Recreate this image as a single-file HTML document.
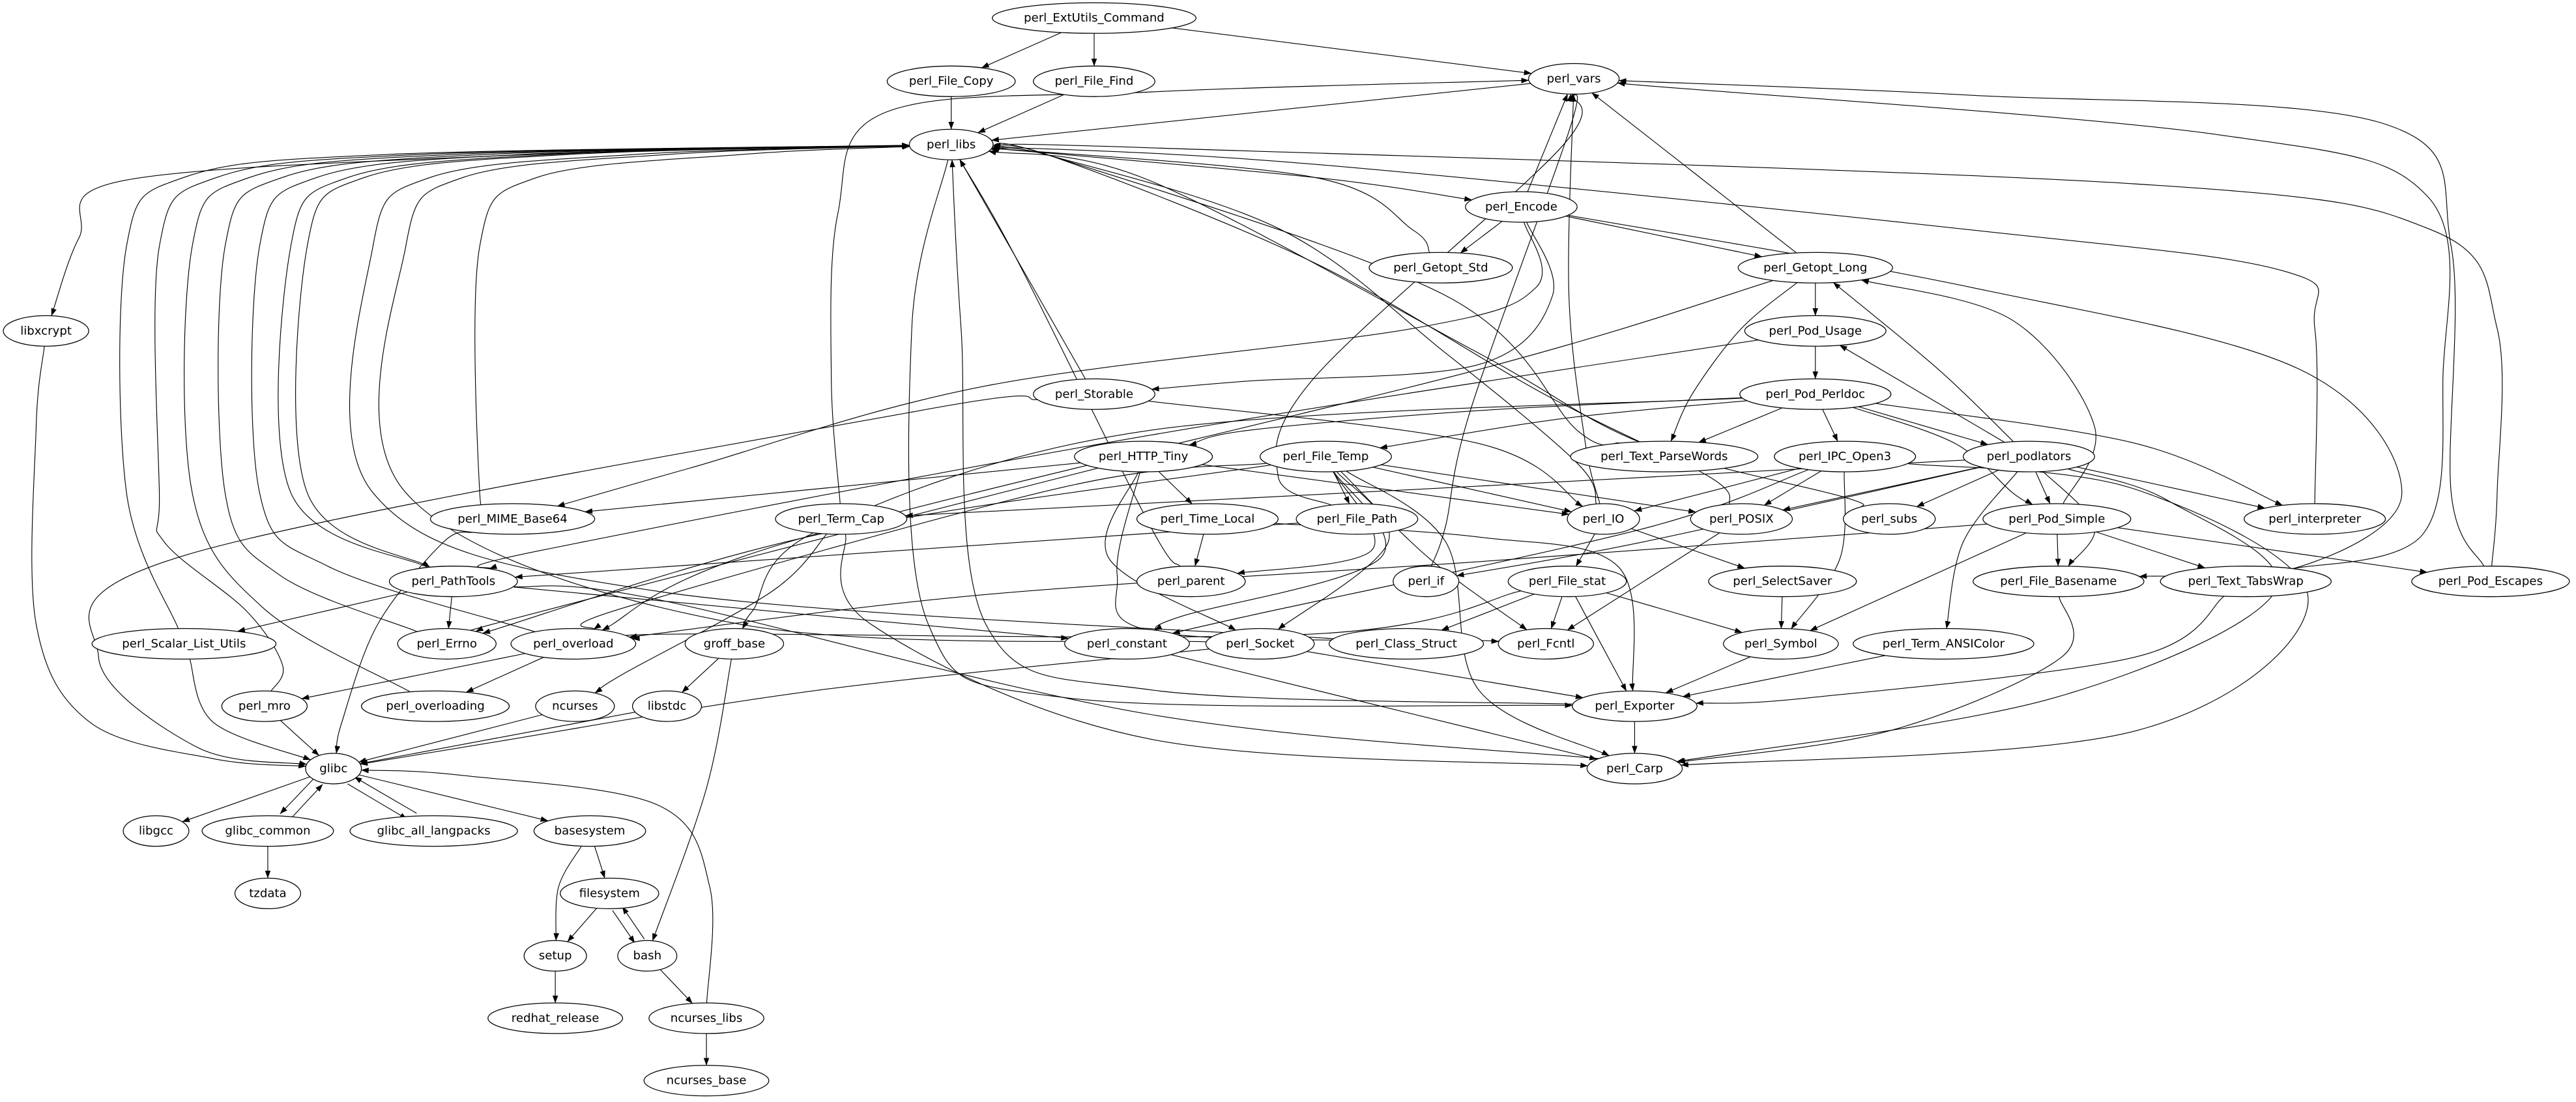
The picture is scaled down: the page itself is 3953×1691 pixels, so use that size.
<!DOCTYPE html>
<html><head><meta charset="utf-8"><style>
html,body{margin:0;padding:0;background:#fff;}
svg{display:block;}
text{font-family:"DejaVu Sans","Liberation Sans",sans-serif;font-size:7.2px;text-anchor:middle;dominant-baseline:central;fill:#000;}
ellipse{fill:#fff;stroke:#000;stroke-width:0.5;}
#edges path{fill:none;stroke:#000;stroke-width:0.45;}
</style></head><body>
<svg id="s" width="3953" height="1691" viewBox="0 0 1568 671" preserveAspectRatio="none" xmlns="http://www.w3.org/2000/svg">
<defs><marker id="a" markerUnits="userSpaceOnUse" markerWidth="4.6" markerHeight="3.4" viewBox="0 0 4.6 3.4" refX="4.5" refY="1.7" orient="auto"><path d="M0,0 L4.6,1.7 L0,3.4 z" fill="#000"/></marker></defs>
<rect width="1568" height="671" fill="#fff"/>
<g id="edges"></g>
<g id="nodes">
<ellipse cx="666" cy="11" rx="62" ry="9.3"/><text x="666" y="11">perl_ExtUtils_Command</text>
<ellipse cx="579" cy="49.5" rx="39" ry="9.3"/><text x="579" y="49.5">perl_File_Copy</text>
<ellipse cx="666" cy="49.5" rx="37" ry="9.3"/><text x="666" y="49.5">perl_File_Find</text>
<ellipse cx="958" cy="48" rx="27.6" ry="9.3"/><text x="958" y="48">perl_vars</text>
<ellipse cx="579" cy="88" rx="25.5" ry="9.3"/><text x="579" y="88">perl_libs</text>
<ellipse cx="926" cy="126" rx="34" ry="9.3"/><text x="926" y="126">perl_Encode</text>
<ellipse cx="877" cy="163" rx="43.6" ry="9.3"/><text x="877" y="163">perl_Getopt_Std</text>
<ellipse cx="1105" cy="163" rx="47" ry="9.3"/><text x="1105" y="163">perl_Getopt_Long</text>
<ellipse cx="1105" cy="201.5" rx="43" ry="9.3"/><text x="1105" y="201.5">perl_Pod_Usage</text>
<ellipse cx="28" cy="201.5" rx="26" ry="9.3"/><text x="28" y="201.5">libxcrypt</text>
<ellipse cx="666" cy="240" rx="37" ry="9.3"/><text x="666" y="240">perl_Storable</text>
<ellipse cx="1105" cy="240" rx="46" ry="9.3"/><text x="1105" y="240">perl_Pod_Perldoc</text>
<ellipse cx="696" cy="278" rx="42" ry="9.3"/><text x="696" y="278">perl_HTTP_Tiny</text>
<ellipse cx="807" cy="278" rx="40" ry="9.3"/><text x="807" y="278">perl_File_Temp</text>
<ellipse cx="1013" cy="278" rx="57" ry="9.3"/><text x="1013" y="278">perl_Text_ParseWords</text>
<ellipse cx="1123" cy="278" rx="43" ry="9.3"/><text x="1123" y="278">perl_IPC_Open3</text>
<ellipse cx="1235" cy="278" rx="40" ry="9.3"/><text x="1235" y="278">perl_podlators</text>
<ellipse cx="312" cy="316" rx="50" ry="9.3"/><text x="312" y="316">perl_MIME_Base64</text>
<ellipse cx="512" cy="316" rx="40" ry="9.3"/><text x="512" y="316">perl_Term_Cap</text>
<ellipse cx="735" cy="316" rx="43" ry="9.3"/><text x="735" y="316">perl_Time_Local</text>
<ellipse cx="826" cy="316" rx="37" ry="9.3"/><text x="826" y="316">perl_File_Path</text>
<ellipse cx="976" cy="316" rx="22" ry="9.3"/><text x="976" y="316">perl_IO</text>
<ellipse cx="1060" cy="316" rx="31" ry="9.3"/><text x="1060" y="316">perl_POSIX</text>
<ellipse cx="1150" cy="316" rx="28" ry="9.3"/><text x="1150" y="316">perl_subs</text>
<ellipse cx="1252" cy="316" rx="45" ry="9.3"/><text x="1252" y="316">perl_Pod_Simple</text>
<ellipse cx="1409" cy="316" rx="43" ry="9.3"/><text x="1409" y="316">perl_interpreter</text>
<ellipse cx="276" cy="354" rx="39" ry="9.3"/><text x="276" y="354">perl_PathTools</text>
<ellipse cx="725" cy="354" rx="33" ry="9.3"/><text x="725" y="354">perl_parent</text>
<ellipse cx="868" cy="354" rx="20" ry="9.3"/><text x="868" y="354">perl_if</text>
<ellipse cx="954" cy="354" rx="36" ry="9.3"/><text x="954" y="354">perl_File_stat</text>
<ellipse cx="1085" cy="354" rx="45" ry="9.3"/><text x="1085" y="354">perl_SelectSaver</text>
<ellipse cx="1253" cy="354" rx="52" ry="9.3"/><text x="1253" y="354">perl_File_Basename</text>
<ellipse cx="1367" cy="354" rx="52" ry="9.3"/><text x="1367" y="354">perl_Text_TabsWrap</text>
<ellipse cx="1516" cy="354" rx="48" ry="9.3"/><text x="1516" y="354">perl_Pod_Escapes</text>
<ellipse cx="112" cy="392" rx="56" ry="9.3"/><text x="112" y="392">perl_Scalar_List_Utils</text>
<ellipse cx="272" cy="392" rx="30" ry="9.3"/><text x="272" y="392">perl_Errno</text>
<ellipse cx="349" cy="392" rx="38" ry="9.3"/><text x="349" y="392">perl_overload</text>
<ellipse cx="447" cy="392" rx="30" ry="9.3"/><text x="447" y="392">groff_base</text>
<ellipse cx="686" cy="392" rx="38" ry="9.3"/><text x="686" y="392">perl_constant</text>
<ellipse cx="767" cy="392" rx="33" ry="9.3"/><text x="767" y="392">perl_Socket</text>
<ellipse cx="856" cy="392" rx="47" ry="9.3"/><text x="856" y="392">perl_Class_Struct</text>
<ellipse cx="941" cy="392" rx="29" ry="9.3"/><text x="941" y="392">perl_Fcntl</text>
<ellipse cx="1084" cy="392" rx="35" ry="9.3"/><text x="1084" y="392">perl_Symbol</text>
<ellipse cx="1183" cy="392" rx="55" ry="9.3"/><text x="1183" y="392">perl_Term_ANSIColor</text>
<ellipse cx="161" cy="430" rx="26" ry="9.3"/><text x="161" y="430">perl_mro</text>
<ellipse cx="265" cy="430" rx="45" ry="9.3"/><text x="265" y="430">perl_overloading</text>
<ellipse cx="350" cy="430" rx="24" ry="9.3"/><text x="350" y="430">ncurses</text>
<ellipse cx="406" cy="430" rx="21" ry="9.3"/><text x="406" y="430">libstdc</text>
<ellipse cx="995" cy="430" rx="38" ry="9.3"/><text x="995" y="430">perl_Exporter</text>
<ellipse cx="203" cy="468" rx="17" ry="9.3"/><text x="203" y="468">glibc</text>
<ellipse cx="995" cy="468" rx="29" ry="9.3"/><text x="995" y="468">perl_Carp</text>
<ellipse cx="95" cy="506" rx="20" ry="9.3"/><text x="95" y="506">libgcc</text>
<ellipse cx="163" cy="506" rx="40" ry="9.3"/><text x="163" y="506">glibc_common</text>
<ellipse cx="264" cy="506" rx="51" ry="9.3"/><text x="264" y="506">glibc_all_langpacks</text>
<ellipse cx="359" cy="506" rx="34" ry="9.3"/><text x="359" y="506">basesystem</text>
<ellipse cx="163" cy="544" rx="20" ry="9.3"/><text x="163" y="544">tzdata</text>
<ellipse cx="371" cy="544" rx="30" ry="9.3"/><text x="371" y="544">filesystem</text>
<ellipse cx="338" cy="582" rx="19" ry="9.3"/><text x="338" y="582">setup</text>
<ellipse cx="394" cy="582" rx="18" ry="9.3"/><text x="394" y="582">bash</text>
<ellipse cx="338" cy="620" rx="41" ry="9.3"/><text x="338" y="620">redhat_release</text>
<ellipse cx="430" cy="620" rx="35" ry="9.3"/><text x="430" y="620">ncurses_libs</text>
<ellipse cx="430" cy="658" rx="38" ry="9.3"/><text x="430" y="658">ncurses_base</text>
</g>
</svg>
<script>
(function(){
var N={ExtUtils:[666,11,62],File_Copy:[579,49.5,39],File_Find:[666,49.5,37],vars:[958,48,27.6],libs:[579,88,25.5],Encode:[926,126,34],Getopt_Std:[877,163,43.6],Getopt_Long:[1105,163,47],Pod_Usage:[1105,201.5,43],libxcrypt:[28,201.5,26],Storable:[666,240,37],Pod_Perldoc:[1105,240,46],HTTP_Tiny:[696,278,42],File_Temp:[807,278,40],Text_ParseWords:[1013,278,57],IPC_Open3:[1123,278,43],podlators:[1235,278,40],MIME_Base64:[312,316,50],Term_Cap:[512,316,40],Time_Local:[735,316,43],File_Path:[826,316,37],IO:[976,316,22],POSIX:[1060,316,31],subs:[1150,316,28],Pod_Simple:[1252,316,45],interpreter:[1409,316,43],PathTools:[276,354,39],parent:[725,354,33],perl_if:[868,354,20],File_stat:[954,354,36],SelectSaver:[1085,354,45],File_Basename:[1253,354,52],Text_TabsWrap:[1367,354,52],Pod_Escapes:[1516,354,48],Scalar:[112,392,56],Errno:[272,392,30],overload:[349,392,38],groff_base:[447,392,30],constant:[686,392,38],Socket:[767,392,33],Class_Struct:[856,392,47],Fcntl:[941,392,29],Symbol:[1084,392,35],Term_ANSIColor:[1183,392,55],mro:[161,430,26],overloading:[265,430,45],ncurses:[350,430,24],libstdc:[406,430,21],Exporter:[995,430,38],glibc:[203,468,17],Carp:[995,468,29],libgcc:[95,506,20],glibc_common:[163,506,40],langpacks:[264,506,51],basesystem:[359,506,34],tzdata:[163,544,20],filesystem:[371,544,30],setup:[338,582,19],bash:[394,582,18],redhat_release:[338,620,41],ncurses_libs:[430,620,35],ncurses_base:[430,658,38]};
function B(X){return [[X,300],[X,150],[X+35,108],[X+160,94]];}
var E=[
['ExtUtils','File_Copy'],['ExtUtils','File_Find'],['ExtUtils','vars'],
['File_Copy','libs'],['File_Find','libs'],['vars','libs'],
['Term_Cap','vars',[[506,230],[510,130],[540,68],[700,56]]],
['libs','Encode',[[800,108]]],['Encode','vars'],['Encode','Getopt_Std'],['Encode','Getopt_Long'],
['Encode','MIME_Base64',[[935,175],[860,200],[600,235],[420,285]]],
['Encode','Storable',[[945,180],[900,222],[760,232]]],
['Encode','File_Basename',[[1200,175],[1400,225],[1462,300],[1400,345]]],
['Getopt_Std','libs',[[860,140],[800,108]]],
['Getopt_Long','vars'],['Getopt_Long','Pod_Usage'],
['Getopt_Long','Text_ParseWords',[[1060,200],[1030,240]]],
['Getopt_Long','overload',[[900,225],[480,330]]],
['Pod_Usage','Pod_Perldoc'],['Pod_Usage','PathTools',[[700,265],[330,335]]],
['Pod_Perldoc','HTTP_Tiny',[[900,250],[760,262]]],['Pod_Perldoc','File_Temp',[[950,255]]],
['Pod_Perldoc','Text_ParseWords'],['Pod_Perldoc','IPC_Open3'],['Pod_Perldoc','podlators'],
['Pod_Perldoc','Pod_Simple',[[1190,270],[1225,300]]],['Pod_Perldoc','interpreter',[[1300,270]]],
['Pod_Perldoc','groff_base',[[700,262],[500,322],[458,372]]],
['podlators','Term_Cap',[[900,296]]],
['podlators','Getopt_Long',[[1180,225]]],['Pod_Simple','Getopt_Long',[[1275,260],[1225,195]]],
['podlators','Pod_Usage'],['podlators','Pod_Simple'],['podlators','subs'],['podlators','POSIX'],['podlators','interpreter'],
['podlators','File_Basename',[[1275,320]]],['podlators','Term_ANSIColor',[[1195,330]]],
['podlators','Carp',[[1320,305],[1385,360],[1250,425]]],['podlators','perl_if',[[1000,330]]],
['IPC_Open3','IO'],['IPC_Open3','POSIX'],['IPC_Open3','Symbol',[[1120,340]]],
['IPC_Open3','constant',[[1000,322],[760,375]]],['IPC_Open3','Carp',[[1300,298],[1405,365],[1300,445]]],
['Pod_Simple','File_Basename'],['Pod_Simple','Text_TabsWrap'],['Pod_Simple','Pod_Escapes'],['Pod_Simple','Symbol'],
['Pod_Simple','overload',[[900,342],[600,362]]],
['Pod_Escapes','vars',[[1492,300],[1492,150],[1450,75],[1200,58]]],
['Pod_Escapes','libs',[[1520,300],[1520,200],[1480,140],[1300,112],[700,90]]],
['Text_TabsWrap','vars',[[1475,325],[1487,230],[1478,120],[1350,82],[1000,52]]],
['interpreter','libs',[[1409,200],[1390,165],[1200,140],[800,100]]],
['File_Basename','Carp',[[1255,400],[1150,445]]],
['Text_TabsWrap','Exporter',[[1300,400],[1100,425]]],
['Term_ANSIColor','Exporter'],['Symbol','Exporter'],['SelectSaver','Symbol'],['IO','SelectSaver'],['IO','File_stat'],
['IO','vars',[[965,270],[955,180]]],['File_stat','Symbol'],['File_stat','Fcntl'],['File_stat','Class_Struct'],['File_stat','Exporter'],
['File_stat','overload',[[800,386],[420,386]]],
['IO','libs',[[960,282],[880,215],[780,140],[640,95]]],
['POSIX','libs',[[1040,290],[940,240],[800,160],[640,95]]],['POSIX','Fcntl'],
['subs','libs',[[1120,302],[1000,270],[900,215],[700,110]]],
['Text_ParseWords','libs',[[960,262],[880,180],[640,95]]],
['Storable','libs'],['Storable','IO',[[900,270]]],['Storable','glibc',[[560,250],[113,338],[60,400],[120,455]]],
['HTTP_Tiny','Time_Local'],['HTTP_Tiny','IO'],['HTTP_Tiny','Errno',[[500,328],[300,380]]],['HTTP_Tiny','MIME_Base64'],
['HTTP_Tiny','Fcntl',[[680,350],[705,385],[900,390]]],['HTTP_Tiny','Socket',[[675,340]]],
['File_Temp','File_Path'],['File_Temp','IO'],['File_Temp','Fcntl',[[870,340]]],['File_Temp','constant',[[840,340],[720,375]]],
['File_Temp','Socket',[[845,330]]],['File_Temp','parent',[[835,335]]],['File_Temp','Errno',[[500,325]]],
['File_Temp','overload',[[650,296],[380,370]]],['File_Temp','POSIX'],['File_Temp','Carp',[[880,330],[900,420]]],
['File_Path','vars',[[778,290],[800,230],[950,90]]],['File_Path','PathTools'],
['Time_Local','Exporter',[[900,327],[985,345]]],['Time_Local','parent'],
['parent','libs',[[700,320],[620,160]]],['perl_if','vars',[[880,320],[895,250],[955,80]]],
['Term_Cap','Carp',[[530,380],[700,450]]],['Term_Cap','ncurses',[[470,360],[380,410]]],
['PathTools','Scalar'],['PathTools','Errno'],['PathTools','constant',[[500,375]]],['PathTools','Carp',[[400,365],[700,435],[975,462]]],
['constant','Carp'],['Socket','Exporter'],['Socket','glibc',[[500,420],[300,452]]],
['Exporter','Carp'],['Exporter','libs',[[700,420],[600,380],[585,200]]],['libs','Exporter',[[555,200],[565,380],[650,425]]],
['libs','libxcrypt',[[300,95],[75,110],[48,145]]],['libxcrypt','glibc',[[22,260],[22,380],[55,440],[130,462]]],
['Scalar','libs',B(77)],['mro','libs',[[172,405],[150,372],[100,330]].concat(B(97))],
['overloading','libs',[[160,370]].concat(B(117))],['Errno','libs',[[170,350]].concat(B(137))],
['overload','libs',[[200,345]].concat(B(158))],['PathTools','libs',B(177)],['libs','PathTools',B(187).reverse()],
['Class_Struct','libs',[[400,360]].concat(B(227))],['Socket','libs',[[450,380]].concat(B(247))],
['MIME_Base64','libs',B(292)],
['overload','mro'],['overload','overloading'],['mro','glibc'],['Scalar','glibc',[[130,440]]],['ncurses','glibc'],['libstdc','glibc'],
['MIME_Base64','glibc',[[270,330],[230,380],[208,440]]],['groff_base','libstdc'],['groff_base','bash',[[430,480]]],
['glibc','libgcc'],['glibc','glibc_common',null,2],['glibc_common','glibc',null,2],['glibc','langpacks',null,2],['langpacks','glibc',null,2],
['glibc','basesystem'],['glibc_common','tzdata'],['basesystem','setup',[[340,540]]],['basesystem','filesystem'],
['filesystem','setup'],['filesystem','bash',null,2],['bash','filesystem',null,2],['bash','ncurses_libs'],['setup','redhat_release'],
['ncurses_libs','ncurses_base'],['ncurses_libs','glibc',[[432,540],[400,490],[280,472]]]
];
function bd(n,px,py){var c=N[n],dx=px-c[0],dy=py-c[1];if(!dx&&!dy)dy=1;var t=1/Math.sqrt(dx*dx/(c[2]*c[2])+dy*dy/(9.3*9.3));return [c[0]+dx*t,c[1]+dy*t];}
var g=document.getElementById('edges'),ns='http://www.w3.org/2000/svg';
E.forEach(function(e){
 var a=N[e[0]],b=N[e[1]],w=e[2]||[],off=e[3]||0;
 var ox=0,oy=0;
 if(off){var dx=b[0]-a[0],dy=b[1]-a[1],L=Math.sqrt(dx*dx+dy*dy);ox=-dy/L*off;oy=dx/L*off;}
 var f=w.length?w[0]:[b[0]+ox,b[1]+oy],l=w.length?w[w.length-1]:[a[0]+ox,a[1]+oy];
 var s=bd(e[0],f[0],f[1]);var t=bd(e[1],l[0],l[1]);
 if(off){s=bd(e[0],a[0]+(b[0]-a[0])+ox*4,a[1]+(b[1]-a[1])+oy*4);s=[s[0]+ox,s[1]+oy];t=[t[0]+ox,t[1]+oy];}
 var P=[s].concat(w).concat([t]);
 var d='M'+P[0][0].toFixed(1)+','+P[0][1].toFixed(1);
 for(var i=0;i<P.length-1;i++){var p0=P[i-1]||P[i],p1=P[i],p2=P[i+1],p3=P[i+2]||P[i+1];
  var c1=[p1[0]+(p2[0]-p0[0])/6,p1[1]+(p2[1]-p0[1])/6],c2=[p2[0]-(p3[0]-p1[0])/6,p2[1]-(p3[1]-p1[1])/6];
  d+=' C'+c1[0].toFixed(1)+','+c1[1].toFixed(1)+' '+c2[0].toFixed(1)+','+c2[1].toFixed(1)+' '+p2[0].toFixed(1)+','+p2[1].toFixed(1);}
 var p=document.createElementNS(ns,'path');p.setAttribute('d',d);p.setAttribute('marker-end','url(#a)');g.appendChild(p);
});
})();
</script>
</body></html>
